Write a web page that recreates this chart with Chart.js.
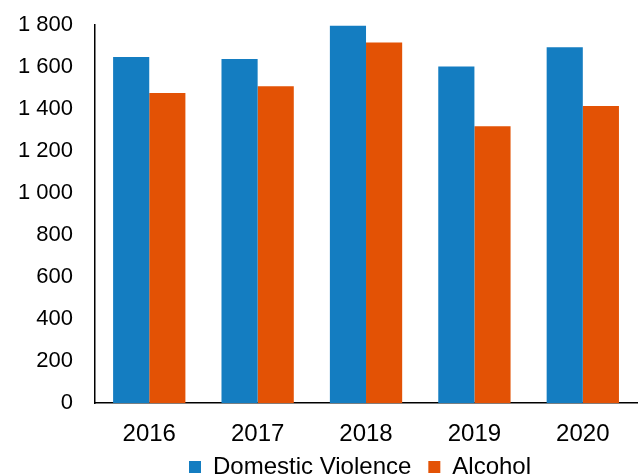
<!DOCTYPE html>
<html>
<head>
<meta charset="utf-8">
<script src="https://cdn.jsdelivr.net/npm/chart.js@4/dist/chart.umd.min.js"></script>
<style>
  html, body { margin: 0; padding: 0; background: #fff; overflow: hidden; }
  #clip { width: 638px; height: 474px; overflow: hidden; }
  #wrap { width: 638px; height: 509px; position: relative; }
</style>
</head>
<body>
<div id="clip"><div id="wrap"><canvas id="barChart"></canvas></div></div>
<script>
// data
const years = ['2016', '2017', '2018', '2019', '2020'];
const domesticViolence = [1648, 1638, 1797, 1603, 1694];
const alcohol = [1476, 1509, 1717, 1318, 1415];
const yTicks = [0, 200, 400, 600, 800, 1000, 1200, 1400, 1600, 1800];

const fmt = v => String(v).replace(/\B(?=(\d{3})+(?!\d))/g, ' ');
const family = 'Liberation Sans, Arial, sans-serif';

// move the legend up/left so it sits (and clips) like the original
const legendShift = {
    id: 'legendShift',
    afterLayout(chart) {
        const lg = chart.legend;
        if (lg) {
            lg.left -= 6;
            lg.right -= 6;
            lg.top -= 20;
            lg.bottom -= 20;
        }
    }
};

new Chart(document.getElementById('barChart'), {
    type: 'bar',
    data: {
        labels: years,
        datasets: [
            { label: 'Domestic Violence', data: domesticViolence, backgroundColor: '#147dc1' },
            { label: 'Alcohol', data: alcohol, backgroundColor: '#e35205' }
        ]
    },
    options: {
        responsive: true,
        maintainAspectRatio: false,
        animation: false,
        devicePixelRatio: 1,
        categoryPercentage: 0.667,
        barPercentage: 1,
        layout: { padding: { top: 0, left: 4, right: 1, bottom: 0 } },
        scales: {
            x: {
                grid: { display: false },
                border: { display: true, color: '#000', width: 1.5 },
                ticks: { color: '#000', font: { family: family, size: 24 }, padding: 9 }
            },
            y: {
                min: 0,
                max: 1800,
                afterBuildTicks: axis => { axis.ticks = yTicks.map(v => ({ value: v })); },
                afterFit: axis => { axis.paddingTop = 25; },
                grid: { display: false },
                border: { display: true, color: '#000', width: 1.5 },
                ticks: { color: '#000', font: { family: family, size: 22 }, padding: 14, callback: v => fmt(v) }
            }
        },
        plugins: {
            legend: {
                position: 'bottom',
                fullSize: false,
                labels: {
                    color: '#000',
                    font: { family: family, size: 24 },
                    boxWidth: 12,
                    boxHeight: 12,
                    padding: 17
                }
            },
            tooltip: { enabled: false }
        }
    },
    plugins: [legendShift]
});
</script>
</body>
</html>
